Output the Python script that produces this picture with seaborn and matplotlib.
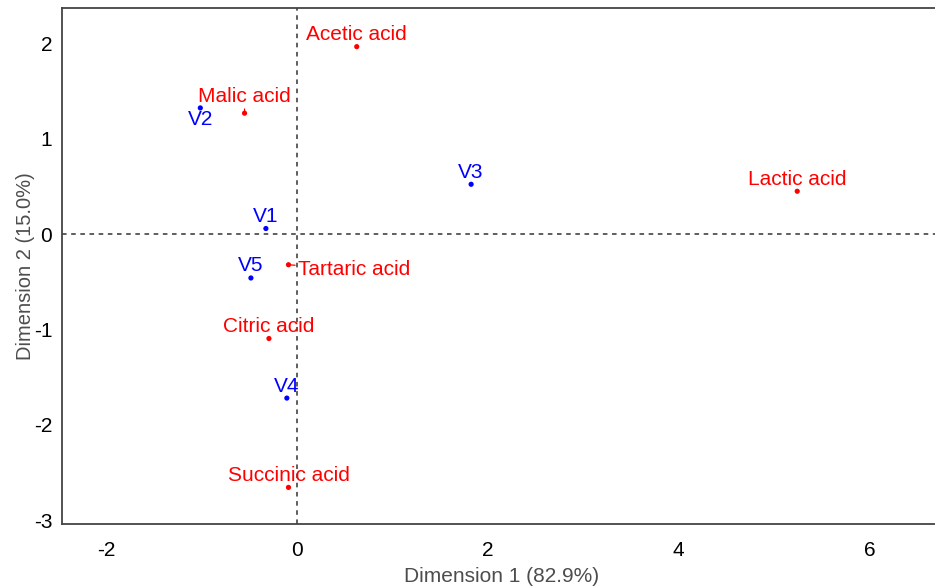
import numpy as np
import pandas as pd
import seaborn as sns
from matplotlib import pyplot as plt

# column points (acids) and row points (V1..V5)
acid_names = ["Acetic acid", "Malic acid", "Lactic acid", "Tartaric acid",
              "Citric acid", "Succinic acid"]
acid_dim1 = [0.622, -0.555, 5.243, -0.094, -0.299, -0.094]
acid_dim2 = [1.967, 1.269, 0.450, -0.321, -1.095, -2.657]

row_names = ["V1", "V2", "V3", "V4", "V5"]
row_dim1 = [-0.331, -1.019, 1.822, -0.111, -0.488]
row_dim2 = [0.059, 1.324, 0.523, -1.720, -0.460]

x_ticks = [-2, 0, 2, 4, 6]
y_ticks = [-3, -2, -1, 0, 1, 2]

df = pd.concat([
    pd.DataFrame({"name": acid_names, "d1": acid_dim1, "d2": acid_dim2, "kind": "col"}),
    pd.DataFrame({"name": row_names, "d1": row_dim1, "d2": row_dim2, "kind": "row"}),
], ignore_index=True)

palette = {"col": "#ff0000", "row": "#0000ff"}

sns.set_style("white")
plt.rcParams["font.family"] = ["Liberation Sans", "DejaVu Sans"]
plt.rcParams["axes.unicode_minus"] = False

fig = plt.figure(figsize=(9.35, 5.88), dpi=100)
ax = fig.add_axes([0.0663, 0.109, 0.94, 0.877])

ax.axhline(0, color="#333333", ls=(0, (3, 3)), lw=1.1, zorder=1)
ax.axvline(0, color="#333333", ls=(0, (3, 3)), lw=1.1, zorder=1)

sns.scatterplot(data=df, x="d1", y="d2", hue="kind", palette=palette,
                s=14, edgecolor="none", legend=False, ax=ax, zorder=3)

# label offsets in pixels (ggrepel-like placement)
offsets = {"Tartaric acid": (66, -5), "Malic acid": (0, 17), "V2": (0, -12)}
shrink = {"Tartaric acid": 6, "Malic acid": 0}
for _, r in df.iterrows():
    dx, dy = offsets.get(r["name"], (0, 12))
    kw = {}
    if r["name"] in shrink:
        kw["arrowprops"] = dict(arrowstyle="-", color=palette[r["kind"]], lw=0.9,
                                shrinkA=shrink[r["name"]], shrinkB=0)
    ax.annotate(r["name"], (r["d1"], r["d2"]), xytext=(dx * 0.72, dy * 0.72),
                textcoords="offset points", ha="center", va="center",
                color=palette[r["kind"]], fontsize=15, zorder=4, **kw)

ax.set_xlim(-2.47, 6.75)
ax.set_ylim(-3.04, 2.37)
ax.set_xticks(x_ticks)
ax.set_yticks(y_ticks)
ax.tick_params(labelsize=15, length=0, colors="black")
ax.tick_params(axis="x", pad=12)
ax.tick_params(axis="y", pad=7)
ax.set_xlabel("Dimension 1 (82.9%)", fontsize=15, color="#4d4d4d", labelpad=5)
ax.set_ylabel("Dimension 2 (15.0%)", fontsize=14.5, color="#4d4d4d", labelpad=-1)
for s in ["left", "bottom", "top"]:
    ax.spines[s].set_color("#444444")
    ax.spines[s].set_linewidth(1.3)
ax.spines["right"].set_visible(False)

fig.savefig("out.png", dpi=100)
